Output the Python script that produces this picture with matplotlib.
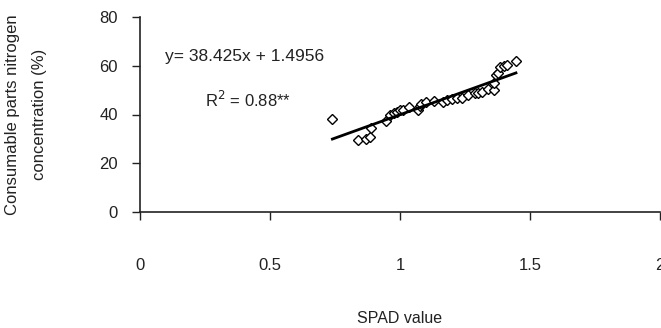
import matplotlib
matplotlib.use("Agg")
import matplotlib.pyplot as plt
import numpy as np

plt.rcParams['font.family'] = ['Liberation Sans', 'DejaVu Sans']

# SPAD value vs consumable parts nitrogen concentration (%)
spad = [0.74, 0.84, 0.87, 0.885, 0.89, 0.945, 0.96, 0.975, 0.99, 1.00,
        1.01, 1.035, 1.07, 1.075, 1.08, 1.10, 1.13, 1.165, 1.18, 1.20,
        1.22, 1.24, 1.26, 1.29, 1.30, 1.315, 1.34, 1.36, 1.36, 1.37,
        1.378, 1.385, 1.40, 1.41, 1.446]
nitrogen = [38.0, 29.5, 30.0, 30.8, 34.5, 37.3, 40.0, 40.6, 41.0, 41.8,
            42.0, 43.0, 41.8, 43.5, 44.3, 45.0, 45.5, 45.0, 46.0, 46.4,
            46.8, 46.8, 48.0, 48.8, 48.8, 49.2, 50.5, 50.0, 52.9, 56.2,
            57.0, 59.5, 60.0, 60.3, 62.0]

slope = 38.425
intercept = 1.4956
r2_text = "0.88**"

xticks = [0, 0.5, 1, 1.5, 2]
xticklabels = ["0", "0.5", "1", "1.5", "2"]
yticks = [0, 20, 40, 60, 80]

fig = plt.figure(figsize=(6.61, 3.28), dpi=100)
ax = fig.add_axes([140 / 661, 1 - 212 / 328, 520 / 661, 195 / 328])

ax.plot(spad, nitrogen, linestyle='none', marker='D', markersize=5.5,
        markerfacecolor='white', markeredgecolor='black', markeredgewidth=1)

xfit = np.array([min(spad), max(spad)])
ax.plot(xfit, slope * xfit + intercept, color='black', lw=2)

ax.text(0.096, 63.6, "y= %.3fx + %.4f" % (slope, intercept), fontsize=12.5,
        va='center', ha='left', color='#222222')
ax.text(0.25, 46, r"R$^2$ = " + r2_text, fontsize=12, va='center',
        ha='left', color='#222222')

ax.set_xlim(0, 2)
ax.set_ylim(0, 80)
ax.set_xticks(xticks)
ax.set_xticklabels(xticklabels)
ax.set_yticks(yticks)

for s in ['top', 'right']:
    ax.spines[s].set_visible(False)
for s in ['left', 'bottom']:
    ax.spines[s].set_linewidth(1.2)
    ax.spines[s].set_color('#222222')

ax.tick_params(axis='x', direction='out', length=6, width=1, pad=27,
               labelsize=12, colors='#222222')
ax.tick_params(axis='y', direction='out', length=6, width=1, pad=10,
               labelsize=12, colors='#222222')

ax.set_xlabel("SPAD value", fontsize=11.5, color='#222222')
ax.xaxis.set_label_coords(0.5, -0.51)
ax.set_ylabel("Consumable parts nitrogen\nconcentration (%)", fontsize=12,
              color='#222222', linespacing=2.0)
ax.yaxis.set_label_coords(-0.178, 0.5)

fig.savefig("out.png", dpi=100)
